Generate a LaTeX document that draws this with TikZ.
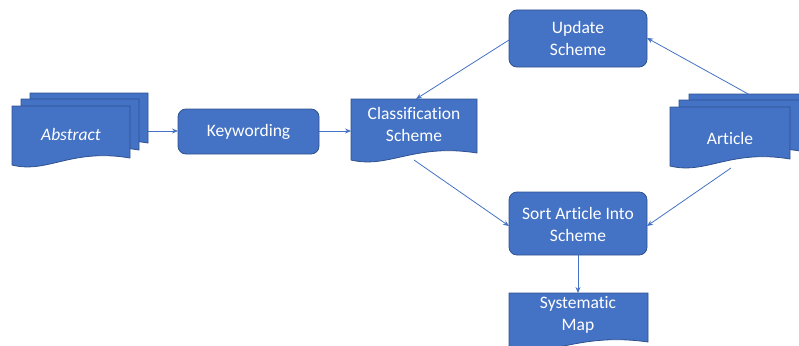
\documentclass[tikz,border=0pt]{standalone}
\usepackage{fontspec}
\setmainfont[Ligatures={NoCommon}]{Carlito}
\usetikzlibrary{arrows.meta}
\definecolor{obl}{HTML}{4472C4}
\definecolor{obd}{HTML}{2F528F}
\tikzset{
  shp/.style={fill=obl, draw=obd, line width=0.8pt},
  rbox/.style={shp, rounded corners=8pt},
  lbl/.style={text=white, font=\fontsize{17.5}{22}\selectfont, align=center, inner sep=0pt},
  conn/.style={draw=obl, line width=0.8pt, -{Stealth[length=6pt,width=5pt]}},
}
% document shape: #1=x0, #2=top, #3=width, #4=height to right bottom
\newcommand{\docshape}[4]{%
  \path[shp] (#1,#2) -- ++(#3,0) -- ++(0,#4)
    .. controls ++(-0.5*#3,-10) and ++(0.3*#3,9) .. (#1,#2+#4+7) -- cycle;}
\begin{document}
\begin{tikzpicture}[x=1pt,y=-1pt]
\clip (0,0) rectangle (799,345);
\useasboundingbox (0,0) rectangle (799,345);
% Abstract (multi-document)
\docshape{30}{93}{118}{50}
\docshape{21}{99}{118}{51}
\docshape{12}{106}{118}{52}
\node[lbl, font=\fontsize{17.5}{22}\selectfont\itshape] (abs) at (71,134) {Abstract};
\coordinate (absE) at (148,131);
% Keywording
\path[rbox] (178,109) rectangle (319,154);
\node[lbl] (kw) at (248.5,131.5) {Keywording};
\coordinate (kwW) at (178,131);
\coordinate (kwE) at (319,131);
% Classification Scheme
\docshape{351}{99}{126}{54}
\node[lbl] (cls) at (414,124) {Classification\\Scheme};
\coordinate (clsW) at (351,131);
\coordinate (clsN) at (416,99);
\coordinate (clsS) at (414,160);
% Update Scheme
\path[rbox] (509,10) rectangle (647,67);
\node[lbl] (upd) at (578,38.5) {Update\\Scheme};
\coordinate (updW) at (509,40);
\coordinate (updE) at (647,38);
% Sort Article Into Scheme
\path[rbox] (509,192) rectangle (647,255);
\node[lbl] (sort) at (578,224) {Sort Article Into\\Scheme};
\coordinate (sortW) at (509,226);
\coordinate (sortE) at (647,226);
\coordinate (sortS) at (578,255);
% Article (multi-document)
\docshape{689}{94}{121}{50}
\docshape{679}{100}{121}{51}
\docshape{670}{107}{120}{52}
\node[lbl] (art) at (730,138) {Article};
\coordinate (artN) at (750,95);
\coordinate (artS) at (731,168);
% Systematic Map
\docshape{509}{293}{139}{49}
\node[lbl] (map) at (578,315) {Systematic\\Map};
\coordinate (mapN) at (578,293);
% connectors
\draw[conn] (absE) -- (kwW);
\draw[conn] (kwE) -- (clsW);
\draw[conn] (updW) -- (clsN);
\draw[conn] (artN) -- (updE);
\draw[conn] (clsS) -- (sortW);
\draw[conn] (artS) -- (sortE);
\draw[conn] (sortS) -- (mapN);
\end{tikzpicture}
\end{document}
